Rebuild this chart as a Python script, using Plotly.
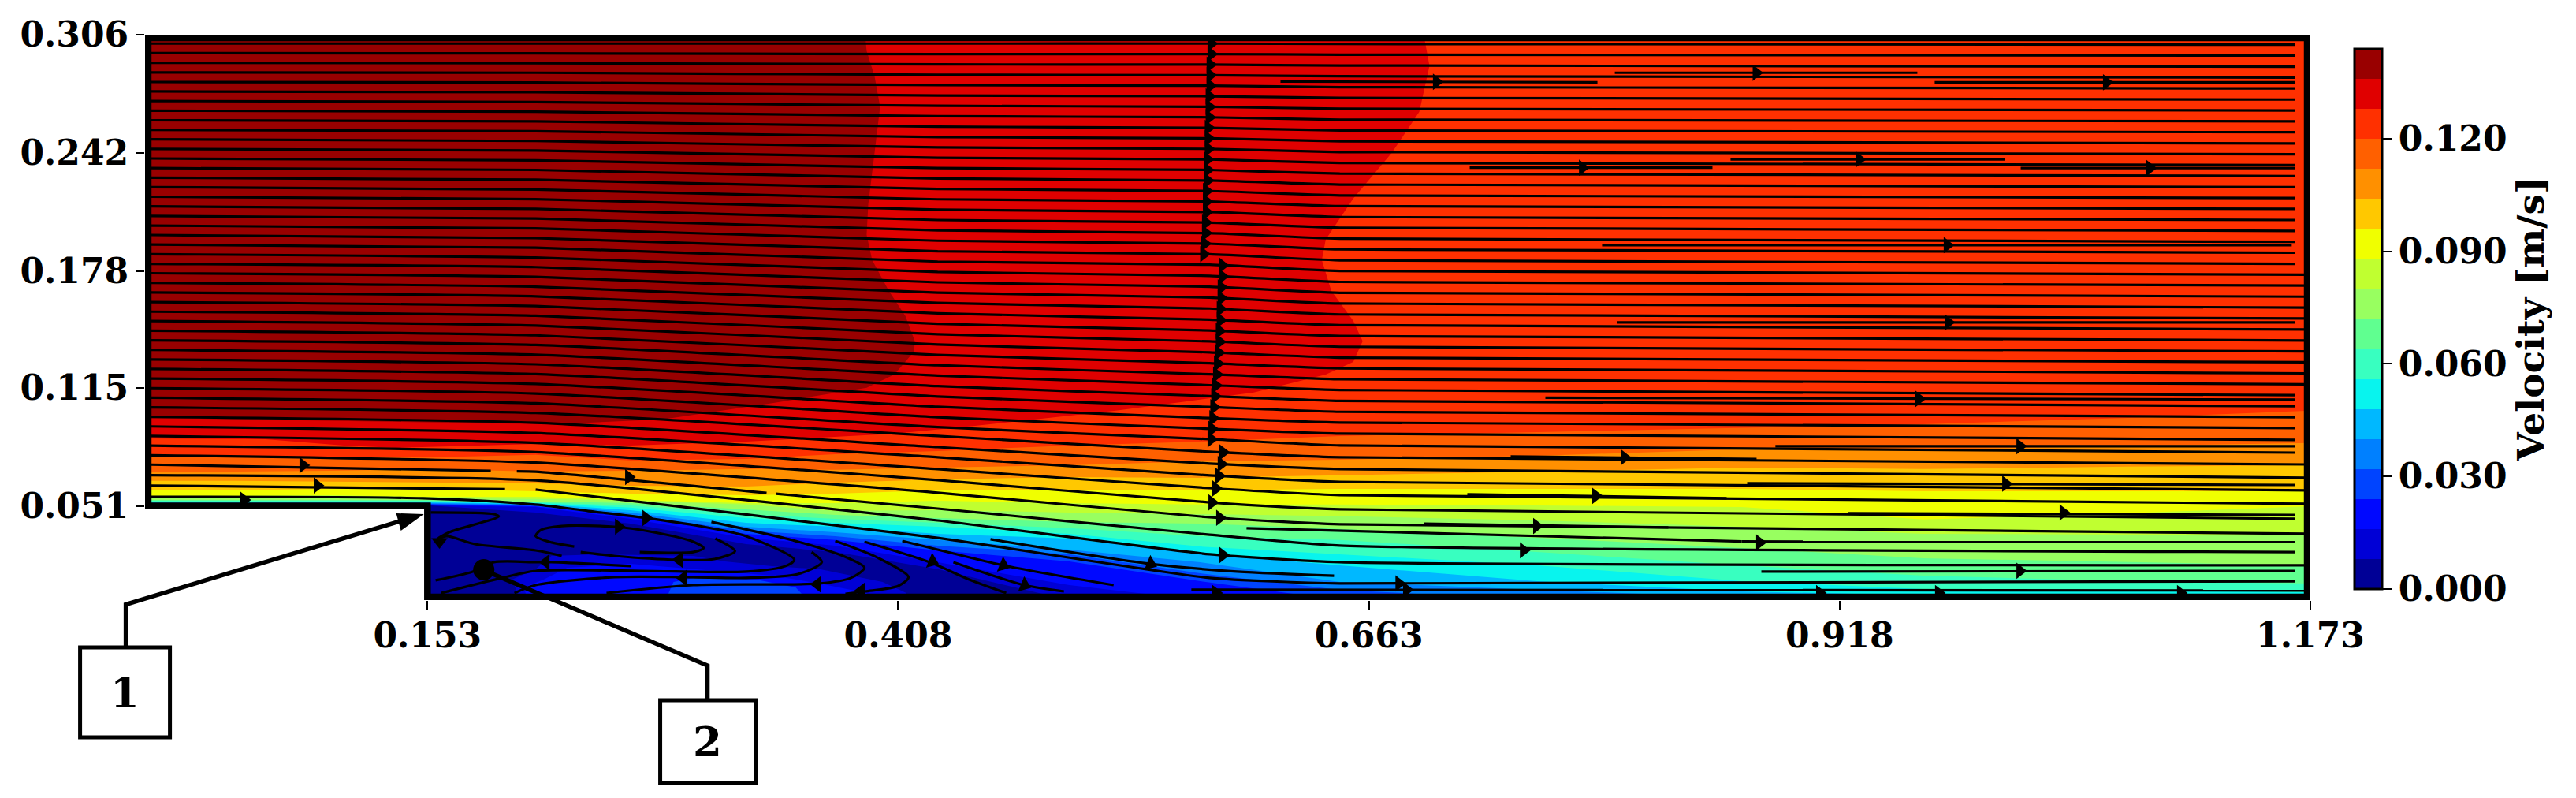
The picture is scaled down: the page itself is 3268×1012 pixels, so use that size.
import numpy as np
import plotly.graph_objects as go

# velocity bands, bottom to top of the colour bar
band_colors = ["#000096", "#0000d6", "#0008ff", "#0044ff", "#0080ff", "#00b8ff", "#08f4ee", "#38ffc0", "#60ff90",
               "#98ff60", "#c0ff30", "#f0ff00", "#ffc800", "#ff9000", "#ff6000", "#ff3000", "#e00000", "#990000"]
band_step = 0.008
x_ticks = [0.153, 0.408, 0.663, 0.918, 1.173]
y_ticks = [0.051, 0.115, 0.178, 0.242, 0.306]
y_tick_labels = ["0.051", "0.115", "0.178", "0.242", "0.306"]
bar_ticks = [0.0, 0.03, 0.06, 0.09, 0.12]

# height of each velocity level along the duct
iso_x = [0, .0494, .1006, .1540, .2116, .2629, .3256, .3739, .4294, .5007, .5716, .6472, .7540, .8650, .9632, 1.0742, 1.173]
iso_008 = [.0512, .0512, .0512, .0512, .0474, .0414, .0303, .0260, .0167, 0, 0, 0, 0, 0, 0, 0, 0]
iso_016 = [.0512, .0512, .0512, .0512, .0504, .0440, .0337, .0295, .0205, .0081, 0, 0, 0, 0, 0, 0, 0]
iso_024 = [.0517, .0517, .0517, .0517, .0508, .0453, .0359, .0325, .0269, .0209, .0102, 0, 0, 0, 0, 0, 0]
iso_032 = [.0521, .0521, .0521, .0521, .0512, .0461, .0376, .0346, .0295, .0248, .0145, .0056, 0, 0, 0, 0, 0]
iso_040 = [.0525, .0525, .0525, .0525, .0517, .0474, .0397, .0367, .0325, .0273, .0205, .0098, .0056, .0013, 0, 0, 0]
iso_048 = [.0529, .0529, .0529, .0529, .0521, .0487, .0418, .0397, .0359, .0333, .0252, .0188, .0102, .0047, .0026, .0021, .0021]
iso_056 = [.0534, .0534, .0534, .0534, .0525, .0500, .0444, .0418, .0397, .0359, .0290, .0248, .0188, .0102, .0060, .0056, .0043]
iso_064 = [.0538, .0538, .0538, .0538, .0529, .0512, .0465, .0440, .0418, .0389, .0346, .0325, .0260, .0188, .0132, .0102, .0090]
iso_072 = [.0542, .0542, .0542, .0542, .0534, .0525, .0491, .0461, .0444, .0423, .0414, .0385, .0337, .0282, .0226, .0205, .0188]
iso_080 = [.0551, .0551, .0555, .0551, .0547, .0538, .0517, .0483, .0487, .0474, .0465, .0455, .0431, .0397, .0359, .0354, .0354]
iso_088 = [.0564, .0564, .0568, .0559, .0559, .0542, .0525, .0525, .0538, .0525, .0517, .0517, .0512, .0504, .0436, .0470, .0508]
iso_096 = [.0594, .0594, .0602, .0602, .0589, .0576, .0568, .0576, .0594, .0594, .0594, .0602, .0602, .0602, .0589, .0589, .0589]
iso_104 = [.0645, .0645, .0641, .0636, .0632, .0619, .0615, .0636, .0653, .0666, .0662, .0675, .0696, .0717, .0709, .0722, .0730]
iso_112 = [.0696, .0696, .0700, .0709, .0696, .0700, .0709, .0705, .0717, .0730, .0751, .0760, .0781, .0816, .0816, .0833, .0850]
iso_120 = [.0777, .0777, .0773, .0773, .0786, .0756, .0764, .0790, .0807, .0837, .0858, .0888, .0909, .0931, .0952, .0986, .1025]

# the two fastest regions have wavy edges, so they get their own outlines
core_128_x = [.6920, .6933, .6958, .6903, .6754, .6545, .6396, .6375, .6426, .6545, .6596, .6545, .6396, .6006, .5259, .4507, .4059, .3256, .2629, .2116, .1360, .1079, .0652, 0, 0]
core_128_y = [.3062, .3027, .2891, .2643, .2421, .2173, .1951, .1840, .1674, .1512, .1401, .1289, .1221, .1123, .1025, .0944, .0901, .0858, .0837, .0845, .0824, .0837, .0871, .0875, .306]
core_136_x = [.3901, .3909, .3952, .3982, .3952, .3918, .3909, .3939, .4029, .4119, .4170, .4166, .4059, .3909, .3405, .2808, .2206, .0494, 0, 0]
core_136_y = [.3062, .2972, .2835, .2669, .2421, .2143, .1977, .1840, .1674, .1537, .1401, .1345, .1221, .1149, .1067, .0978, .0952, .0978, .0986, .306]

# faster pockets along the floor of the recirculation zone
pocket_1_x = [.2035, .1988, .2116, .2202, .2458, .2970, .3141, .3397, .3654, .3995, .4124, .4124]
pocket_1_y = [0, .0111, .0167, .0239, .0248, .0239, .0209, .0184, .0167, .0098, .0038, 0]
pocket_2_x = [.2074, .2052, .2159, .2287, .2629, .3056, .3397, .3654, .3909, .3952]
pocket_2_y = [0, .0068, .0111, .0175, .0196, .0162, .0132, .0090, .0038, 0]
pocket_3_x = [.2820, .2863, .2970, .3312, .3525, .3589]
pocket_3_y = [0, .0098, .0120, .0111, .0068, 0]

# long streamlines: one height per line at each station
stream_x = [.0032, .2116, .4294, .5767, .6472, 1.1646]
stream_y_0 = [.3012, .2960, .2908, .2856, .2804, .2753, .2701, .2649, .2597, .2545, .2494, .2442, .2390, .2338, .2286, .2235,
              .2183, .2131, .2079, .2027, .1976, .1924, .1872, .1820, .1769, .1717, .1665, .1613, .1561, .1510, .1458, .1406,
              .1354, .1302, .1251, .1199, .1147, .1095, .1043, .0992, .0940, .0888, .0836, .0784, .0733, .0676, .0620]
stream_y_1 = [.3012, .2959, .2906, .2854, .2801, .2749, .2696, .2643, .2591, .2538, .2485, .2433, .2380, .2328, .2275, .2222,
              .2170, .2117, .2065, .2012, .1959, .1907, .1854, .1802, .1749, .1696, .1644, .1591, .1539, .1486, .1433, .1381,
              .1328, .1276, .1223, .1170, .1118, .1065, .1013, .0960, .0904, .0851, .0801, .0744, .0695, .0648, .0598]
stream_y_2 = [.3012, .2955, .2899, .2843, .2787, .2731, .2675, .2619, .2562, .2506, .2450, .2394, .2338, .2282, .2225, .2169,
              .2113, .2057, .2001, .1945, .1888, .1832, .1776, .1720, .1664, .1608, .1552, .1495, .1439, .1383, .1327, .1271,
              .1215, .1158, .1102, .1046, .0990, .0936, .0888, .0828, .0773, .0709, .0649, .0581, .0495, .0431, .0337]
stream_y_3 = [.3012, .2955, .2898, .2841, .2784, .2727, .2670, .2613, .2556, .2499, .2442, .2385, .2328, .2271, .2214, .2157,
              .2100, .2043, .1986, .1929, .1872, .1815, .1755, .1696, .1637, .1578, .1518, .1459, .1400, .1341, .1282, .1222,
              .1163, .1104, .1045, .0985, .0927, .0871, .0803, .0739, .0675, .0606, .0529, .0448, .0354, .0248, .0120]
stream_y_4 = [.3010, .2952, .2893, .2835, .2776, .2718, .2659, .2600, .2542, .2483, .2425, .2366, .2308, .2249, .2190, .2132,
              .2073, .2015, .1956, .1898, .1839, .1781, .1722, .1663, .1605, .1546, .1488, .1429, .1371, .1312, .1254, .1195,
              .1137, .1078, .1019, .0961, .0901, .0837, .0773, .0709, .0640, .0568, .0491, .0410, .0295, .0205, .0090]
stream_y_5 = [.3006, .2947, .2887, .2828, .2769, .2709, .2650, .2591, .2532, .2472, .2413, .2354, .2295, .2235, .2176, .2117,
              .2057, .1998, .1939, .1880, .1820, .1761, .1702, .1642, .1583, .1524, .1464, .1405, .1346, .1287, .1227, .1168,
              .1109, .1049, .0990, .0931, .0867, .0798, .0734, .0662, .0594, .0521, .0440, .0359, .0260, .0188, .0102]
stream_columns = [stream_y_0, stream_y_1, stream_y_2, stream_y_3, stream_y_4, stream_y_5]
through_lines = [21, 22, 23, 24, 25, 26, 27, 28, 29, 30, 31, 38, 39, 40, 41, 43, 45]
line_gaps = {44: [(.1873, .2014), (.3367, .3418)], 46: [(.1950, .2129)]}

# the wall of arrowheads near x = 0.58, one per long line
column_arrow_x = [.5775, .5775, .5770, .5770, .5770, .5765, .5765, .5765, .5760, .5760, .5760, .5755, .5755, .5755, .5750,
                  .5750, .5750, .5745, .5745, .5740, .5735, .5835, .5835, .5830, .5830, .5825, .5825, .5820, .5820, .5815,
                  .5810, .5805, .5800, .5795, .5790, .5785, .5780, .5775, .5839, .5830, .5818, .5801, .5780, .5822, None,
                  .5839, None]

# shorter straight streamlines downstream
short_x0 = [.6151, .7962, .9695, .7176, .8589, 1.0161, .7893, .7974, .7586, .7398, .8832, .7163, .8679, .6928, .9225, .5967, .8649, .8756, .5668]
short_x1 = [.7868, .9601, 1.1646, .8491, 1.0075, 1.1646, 1.1629, 1.1646, 1.1646, .8730, 1.1646, .8568, 1.1646, .8252, 1.1646, .8649, 1.1646, 1.1646, 1.1710]
short_y0 = [.2807, .2854, .2802, .2340, .2385, .2338, .1921, .1503, .1095, .0777, .0833, .0573, .0632, .0414, .0470, .0389, .0317, .0154, .0056]
short_y1 = [.2802, .2854, .2802, .2340, .2385, .2338, .1921, .1503, .1085, .0764, .0833, .0551, .0623, .0393, .0461, .0317, .0316, .0158, .0052]

# curved streamlines around the recirculation bubble
curve_1_x = [.0032, .1506, .2116, .2402, .2714, .3000, .3256, .3517, .3470, .3256, .2684, .2116, .1933, .1604]
curve_1_y = [.0559, .0551, .0517, .0482, .0444, .0401, .0346, .0218, .0184, .0154, .0158, .0158, .0120, .0038]
curve_2_x = [.3068, .3538, .3811, .3897, .3824, .3654, .2970, .2500]
curve_2_y = [.0423, .0316, .0226, .0175, .0120, .0090, .0081, .0038]
curve_3_x = [.3739, .3965, .4136, .4081, .3901, .3794]
curve_3_y = [.0320, .0231, .0124, .0077, .0047, .0034]
curve_4_x = [.3897, .4251, .4465, .4665]
curve_4_y = [.0316, .0205, .0111, .0038]
curve_5_x = [.4102, .4294, .4649, .5247]
curve_5_y = [.0320, .0273, .0188, .0081]
curve_6_x = [.4379, .4764, .4978]
curve_6_y = [.0205, .0081, .0047]
curve_7_x = [.4580, .5447, .5916, .6441]
curve_7_y = [.0329, .0196, .0154, .0132]
curve_8_x = [.2325, .2202, .2116, .2146, .2257, .2543, .2757, .2970, .3026, .2970, .2680]
curve_8_y = [.0290, .0312, .0346, .0380, .0401, .0397, .0367, .0316, .0282, .0260, .0260]
curve_9_x = [.2360, .2543, .2885, .3085, .3196, .3089]
curve_9_y = [.0260, .0239, .0218, .0222, .0265, .0333]
curve_10_x = [.2257, .2116, .1787, .1634, .1582, .1647, .1916, .1890, .1548]
curve_10_y = [.0239, .0269, .0303, .0346, .0329, .0367, .0453, .0465, .0474]
curve_11_x = [.2633, .2202, .2116, .1890, .1775, .1574]
curve_11_y = [.0184, .0205, .0205, .0205, .0154, .0107]
curve_12_x = [.3611, .3666, .3538, .3256, .2941, .2543, .2116, .2001]
curve_12_y = [.0260, .0205, .0141, .0120, .0124, .0124, .0081, .0038]
curves = [(curve_1_x, curve_1_y), (curve_2_x, curve_2_y), (curve_3_x, curve_3_y), (curve_4_x, curve_4_y),
          (curve_5_x, curve_5_y), (curve_6_x, curve_6_y), (curve_7_x, curve_7_y), (curve_8_x, curve_8_y),
          (curve_9_x, curve_9_y), (curve_10_x, curve_10_y), (curve_11_x, curve_11_y), (curve_12_x, curve_12_y)]

# loose arrowheads
right_arrow_x = [.0856, .0933, .0536, .2620, .2714, .2565, .6996, .8728, 1.0626, .7787, .9286, 1.0861, .9763, .9768, .9610, .8013, 1.0157,
                 .7859, 1.0080, .7539, 1.0391, .8747, 1.0157, .6834, .6793, .9072, .9716, 1.1027, .5801, .7467]
right_arrow_y = [.0730, .0620, .0542, .0666, .0444, .0397, .2805, .2854, .2802, .2340, .2385, .2338, .1921, .1503, .1089, .0773, .0833,
                 .0564, .0630, .0401, .0474, .0312, .0158, .0056, .0090, .0038, .0038, .0038, .0038, .0269]
slanted_arrow_x = [.4265, .4649, .4764, .5447]
slanted_arrow_y = [.0209, .0188, .0081, .0196]
left_arrow_x = [.2172, .2893, .2915, .3641, .3880]
left_arrow_y = [.0205, .0218, .0120, .0085, .0051]
down_arrow_x = [.1595]
down_arrow_y = [.0316]

# duct outline, step corner at (0.153, 0.051)
wall_x = [.0017, 1.1713, 1.1713, .153, .153, .0017]
wall_y = [.3043, .3043, .0017, .0017, .051, .051]
probe_x = [.1835]
probe_y = [.0164]

# plot area in page pixels; the page body adds an 8 px margin around the figure
PAGE_W, PAGE_H, BODY = 3268, 1012, 8
PLOT_L, PLOT_R, PLOT_T, PLOT_B = 184.4, 2931.5, 44.4, 761.0
FIG_W, FIG_H = PAGE_W - 2 * BODY, PAGE_H - 2 * BODY
ARROW_SIZE = 18
LINE_W = 3.2


def to_paper(px, py):
    return (px - PLOT_L) / (PLOT_R - PLOT_L), (PLOT_B - py) / (PLOT_B - PLOT_T)


def pixel_path(points, close=False):
    coords = [to_paper(*p) for p in points]
    path = "M " + " L ".join(f"{a:.5f} {b:.5f}" for a, b in coords)
    return path + (" Z" if close else "")


fig = go.Figure()


def add_band(xs, ys, level):
    fig.add_trace(go.Scatter(x=xs, y=ys, mode="lines", fill="toself", fillcolor=band_colors[level],
                             line=dict(width=0), hoverinfo="skip", showlegend=False))


iso_lines = [iso_008, iso_016, iso_024, iso_032, iso_040, iso_048, iso_056, iso_064, iso_072, iso_080, iso_088, iso_096,
             iso_104, iso_112, iso_120]
for i, iso in enumerate(iso_lines):
    add_band(iso_x + [1.173, 0], iso + [.306, .306], i + 1)
add_band(core_128_x, core_128_y, 16)
add_band(core_136_x, core_136_y, 17)
add_band(pocket_1_x, pocket_1_y, 1)
add_band(pocket_2_x, pocket_2_y, 2)
add_band(pocket_3_x, pocket_3_y, 3)

# long lines go in one trace, None breaks the path
line_x, line_y = [], []
for k in range(len(stream_y_0)):
    xs = stream_x[:-1] + [1.171 if k in through_lines else stream_x[-1]]
    ys = [col[k] for col in stream_columns]
    gaps = line_gaps.get(k, [])
    edges = [e for g in gaps for e in g]
    for x in sorted(xs + edges):
        line_x.append(x)
        line_y.append(float(np.interp(x, xs, ys)))
        if x in [g[0] for g in gaps]:
            line_x.append(None)
            line_y.append(None)
    line_x.append(None)
    line_y.append(None)
fig.add_trace(go.Scatter(x=line_x, y=line_y, mode="lines", line=dict(color="black", width=LINE_W, shape="spline", smoothing=0.5),
                         hoverinfo="skip", showlegend=False))

short_line_x, short_line_y = [], []
for x0, x1, y0, y1 in zip(short_x0, short_x1, short_y0, short_y1):
    short_line_x += [x0, x1, None]
    short_line_y += [y0, y1, None]
fig.add_trace(go.Scatter(x=short_line_x, y=short_line_y, mode="lines", line=dict(color="black", width=LINE_W),
                         hoverinfo="skip", showlegend=False))

for cx, cy in curves:
    fig.add_trace(go.Scatter(x=cx, y=cy, mode="lines", line=dict(color="black", width=LINE_W, shape="spline", smoothing=0.8),
                             hoverinfo="skip", showlegend=False))

col_x, col_y = [], []
for k, ax in enumerate(column_arrow_x):
    if ax is None:
        continue
    col_x.append(ax)
    col_y.append(float(np.interp(ax, stream_x, [col[k] for col in stream_columns])))


def add_arrows(xs, ys, symbol="triangle-right", angle=0):
    fig.add_trace(go.Scatter(x=xs, y=ys, mode="markers", hoverinfo="skip", showlegend=False,
                             marker=dict(symbol=symbol, size=ARROW_SIZE, color="black", angle=angle, line=dict(width=0))))


add_arrows(col_x, col_y)
add_arrows(right_arrow_x, right_arrow_y)
add_arrows(slanted_arrow_x, slanted_arrow_y, angle=22)
add_arrows(left_arrow_x, left_arrow_y, symbol="triangle-left")
add_arrows(down_arrow_x, down_arrow_y, symbol="triangle-down")

fig.add_trace(go.Scatter(x=probe_x, y=probe_y, mode="markers", hoverinfo="skip", showlegend=False,
                         marker=dict(size=27, color="black", line=dict(width=0))))

# colour bar lives on an empty marker trace with hard colour steps
steps = []
for i, c in enumerate(band_colors):
    steps += [[i / len(band_colors), c], [(i + 1) / len(band_colors), c]]
label_font = dict(family="DejaVu Serif", size=44, color="black", weight="bold")
fig.add_trace(go.Scatter(
    x=[None], y=[None], mode="markers", hoverinfo="skip", showlegend=False,
    marker=dict(color=[0], cmin=0, cmax=band_step * len(band_colors), colorscale=steps, showscale=True,
                colorbar=dict(x=to_paper(2988, 0)[0], xanchor="left", xpad=0, ypad=0,
                              y=to_paper(0, 404.5)[1], yanchor="middle",
                              thicknessmode="pixels", thickness=35, lenmode="pixels", len=685,
                              outlinewidth=3, outlinecolor="black",
                              ticks="outside", ticklen=11, tickwidth=2, tickcolor="black",
                              tickvals=bar_ticks, ticktext=[f"{t:.3f}" for t in bar_ticks], tickfont=label_font,
                              title=dict(text="Velocity [m/s]", side="right",
                                         font=dict(family="DejaVu Serif", size=47, color="black", weight="bold")))),
))

shapes = [
    # blank out the solid step, then draw the duct wall over everything
    dict(type="rect", xref="x", yref="y", x0=0, x1=.153, y0=0, y1=.051, fillcolor="white", line=dict(width=0)),
    dict(type="path", xref="x", yref="y", line=dict(color="black", width=8.5), fillcolor="rgba(0,0,0,0)",
         path="M " + " L ".join(f"{a} {b}" for a, b in zip(wall_x, wall_y)) + " Z"),
    # callout 1
    dict(type="path", xref="paper", yref="paper", line=dict(color="black", width=5.5),
         path=pixel_path([(160, 821), (160, 766.5), (508, 661)])),
    dict(type="path", xref="paper", yref="paper", line=dict(width=0), fillcolor="black",
         path=pixel_path([(538, 652), (503, 651), (509, 673)], close=True)),
    dict(type="path", xref="paper", yref="paper", line=dict(color="black", width=5), fillcolor="white",
         path=pixel_path([(102, 821), (216, 821), (216, 935), (102, 935)], close=True)),
    # callout 2
    dict(type="path", xref="paper", yref="paper", line=dict(color="black", width=5.5),
         path=pixel_path([(898, 888), (898, 844), (614, 723)])),
    dict(type="path", xref="paper", yref="paper", line=dict(color="black", width=5), fillcolor="white",
         path=pixel_path([(838, 888), (959, 888), (959, 993), (838, 993)], close=True)),
]

box_font = dict(family="DejaVu Serif", size=53, color="black", weight="bold")
annotations = [
    dict(text="1", xref="paper", yref="paper", x=to_paper(159, 0)[0], y=to_paper(0, 878)[1], xanchor="center", yanchor="middle",
         showarrow=False, font=box_font),
    dict(text="2", xref="paper", yref="paper", x=to_paper(898, 0)[0], y=to_paper(0, 940)[1], xanchor="center", yanchor="middle",
         showarrow=False, font=box_font),
]

fig.update_layout(
    width=FIG_W, height=FIG_H, autosize=False,
    margin=dict(l=PLOT_L - BODY, r=FIG_W - (PLOT_R - BODY), t=PLOT_T - BODY, b=FIG_H - (PLOT_B - BODY), pad=0, autoexpand=False),
    paper_bgcolor="white", plot_bgcolor=band_colors[0],
    shapes=shapes, annotations=annotations,
    xaxis=dict(range=[0, 1.173], tickvals=x_ticks, ticktext=[f"{t:.3f}" for t in x_ticks], showgrid=False, zeroline=False,
               ticks="outside", ticklen=12, tickwidth=2, tickcolor="black", tickfont=label_font, showline=False,
               ticklabelstandoff=-6),
    yaxis=dict(range=[0, .306], tickvals=y_ticks, ticktext=y_tick_labels, showgrid=False, zeroline=False,
               ticks="outside", ticklen=11, tickwidth=2, tickcolor="black", tickfont=label_font, showline=False),
)

fig.write_html("out.html")
